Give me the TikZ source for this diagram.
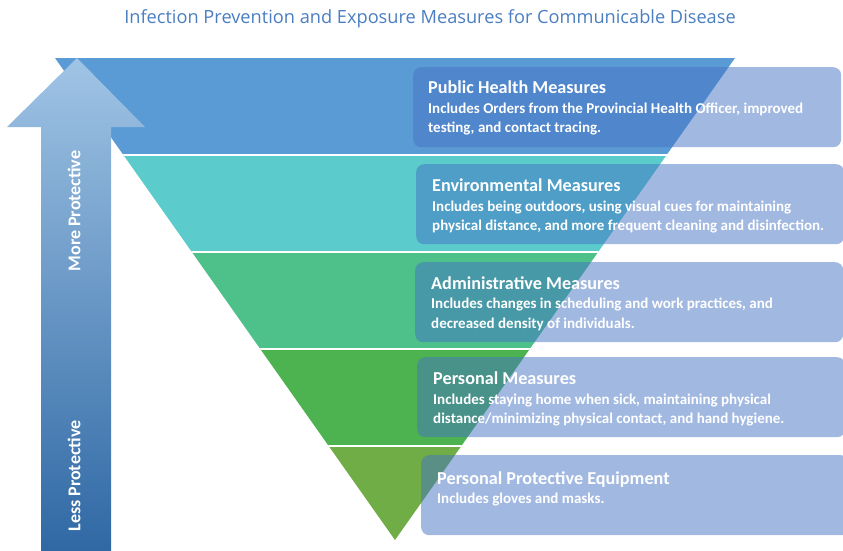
\documentclass[tikz,border=0pt]{standalone}
\usepackage{fontspec}
\setmainfont{Carlito}
\newfontfamily\titlefont{Open Sans}
\usetikzlibrary{positioning}

\definecolor{titleblue}{RGB}{74,126,193}
\definecolor{bandA}{RGB}{91,155,213}
\definecolor{bandB}{RGB}{91,203,203}
\definecolor{bandC}{RGB}{78,193,138}
\definecolor{bandD}{RGB}{77,179,80}
\definecolor{bandE}{RGB}{112,173,71}
\definecolor{boxblue}{RGB}{68,114,196}
\definecolor{arrowtop}{RGB}{160,196,229}
\definecolor{arrowbot}{RGB}{47,104,164}

\newcommand{\boxhead}{\fontsize{18.2}{20}\selectfont}

\begin{document}
\begin{tikzpicture}[x=1pt,y=-1pt,
    measurebox/.style={draw=none,fill=boxblue,fill opacity=0.5,rounded corners=8pt,
        anchor=north west,minimum width=428pt,minimum height=80pt,inner sep=0pt},
    boxtext/.style={anchor=north west,inner sep=0pt,text=white,align=left,
        font=\bfseries\fontsize{15}{19.5}\selectfont}
]
\useasboundingbox (0,0) rectangle (843,550);

\node[text=titleblue,font=\titlefont\fontsize{18.2}{20}\selectfont] (title) at (430,19)
    {Infection Prevention and Exposure Measures for Communicable Disease};

% inverted triangle, one band per level
\begin{scope}
    \clip (55,58) -- (735,58) -- (395,540) -- cycle;
    \fill[bandA] (0,58) rectangle (843,155);
    \fill[bandB] (0,155) rectangle (843,252);
    \fill[bandC] (0,252) rectangle (843,349);
    \fill[bandD] (0,349) rectangle (843,446);
    \fill[bandE] (0,446) rectangle (843,545);
    \foreach \yy in {155,252,349,446}
        \draw[white,line width=2.5pt] (0,\yy) -- (843,\yy);
\end{scope}

% arrow on the left
\shade[top color=arrowtop,bottom color=arrowbot]
    (41,552) -- (41,127) -- (7,127) -- (77,58) -- (145,127) -- (111,127) -- (111,552) -- cycle;
\node[rotate=90,text=white,font=\bfseries\fontsize{18}{20}\selectfont] (more) at (74,211) {More Protective};
\node[rotate=90,text=white,font=\bfseries\fontsize{18}{20}\selectfont] (less) at (74,476) {Less Protective};

% boxes
\node[measurebox] (pub) at (413,67) {};
\node[measurebox] (env) at (416,164) {};
\node[measurebox] (adm) at (415,262) {};
\node[measurebox] (per) at (417,357) {};
\node[measurebox] (ppe) at (421,455) {};

\node[boxtext,below right=14pt and 15pt of pub.north west] (pubtext)
    {{\boxhead Public Health Measures}\\
     Includes Orders from the Provincial Health Officer, improved\\
     testing, and contact tracing.};
\node[boxtext,below right=15pt and 16pt of env.north west] (envtext)
    {{\boxhead Environmental Measures}\\
     Includes being outdoors, using visual cues for maintaining\\
     physical distance, and more frequent cleaning and disinfection.};
\node[boxtext,below right=14pt and 16pt of adm.north west] (admtext)
    {{\boxhead Administrative Measures}\\
     Includes changes in scheduling and work practices, and\\
     decreased density of individuals.};
\node[boxtext,below right=15pt and 16pt of per.north west] (pertext)
    {{\boxhead Personal Measures}\\
     Includes staying home when sick, maintaining physical\\
     distance/minimizing physical contact, and hand hygiene.};
\node[boxtext,below right=16pt and 16pt of ppe.north west] (ppetext)
    {{\boxhead Personal Protective Equipment}\\
     Includes gloves and masks.};
\end{tikzpicture}
\end{document}
